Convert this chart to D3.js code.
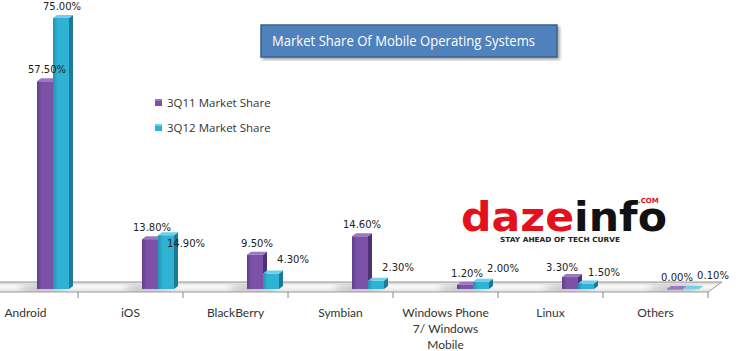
<!DOCTYPE html>
<meta charset="utf-8">
<style>
body { margin: 0; background: #fff; }
svg { display: block; }
.val { font-family: "DejaVu Sans", sans-serif; font-size: 10px; fill: #222; }
.cat { font-family: Lato, sans-serif; font-size: 12px; fill: #333; }
.leg { font-family: "Open Sans", sans-serif; font-size: 11.5px; fill: #333; }
</style>
<svg width="748" height="351"></svg>
<script src="https://d3js.org/d3.v7.min.js"></script>
<script>

var categories = ["Android", "iOS", "BlackBerry", "Symbian", "Windows Phone 7/ Windows Mobile", "Linux", "Others"];
var share3Q11 = [57.5, 13.8, 9.5, 14.6, 1.2, 3.3, 0.0];
var share3Q12 = [75.0, 14.9, 4.3, 2.3, 2.0, 1.5, 0.1];
var seriesNames = ["3Q11 Market Share", "3Q12 Market Share"];

var svg = d3.select("svg");
var defs = svg.append("defs");

// colours for each series: front light, front dark, side, top
var pal = [
  {front: "#7c52a9", edge: "#5f3e8a", side: "#4d3373", top: "#9a78c4"},
  {front: "#2fb2d4", edge: "#2293b3", side: "#1b7a97", top: "#6fd0ea"}
];
pal.forEach(function(p, i) {
  var g = defs.append("linearGradient").attr("id", "fr" + i);
  g.append("stop").attr("offset", "0%").attr("stop-color", p.edge);
  g.append("stop").attr("offset", "30%").attr("stop-color", p.front);
  g.append("stop").attr("offset", "100%").attr("stop-color", p.front);
});
defs.append("filter").attr("id", "blur").append("feGaussianBlur").attr("stdDeviation", 3);
var sh = defs.append("filter").attr("id", "shadow");
sh.append("feDropShadow").attr("dx", 2).attr("dy", 2).attr("stdDeviation", 1.5).attr("flood-opacity", 0.35);
var fl = defs.append("linearGradient").attr("id", "floor").attr("x1", 0).attr("y1", 0).attr("x2", 0).attr("y2", 1);
fl.append("stop").attr("offset", "0%").attr("stop-color", "#d0d0d0");
fl.append("stop").attr("offset", "40%").attr("stop-color", "#fbfbfb");
fl.append("stop").attr("offset", "100%").attr("stop-color", "#e2e2e2");

var x = d3.scaleBand().domain(categories).range([-27, 708]);
var y = d3.scaleLinear().domain([0, 75]).range([289, 18]);
var barW = 16, depth = 4, rise = 3;

// floor slab
svg.append("polygon")
  .attr("points", [[-5, 282], [722, 282], [708, 292], [-5, 292]].join(" "))
  .attr("fill", "url(#floor)").attr("stroke", "#9a9a9a").attr("stroke-width", 1);

// soft shadows under bars
svg.append("g").selectAll("ellipse").data(categories).join("ellipse")
  .attr("cx", function(d) { return x(d) + 70; })
  .attr("cy", 288)
  .attr("rx", 24).attr("ry", 3)
  .attr("fill", "#888").attr("opacity", 0.55)
  .attr("filter", "url(#blur)");

// ticks
svg.append("g").selectAll("line").data(categories).join("line")
  .attr("x1", function(d) { return x(d) + x.bandwidth(); })
  .attr("x2", function(d) { return x(d) + x.bandwidth(); })
  .attr("y1", 292).attr("y2", 298)
  .attr("stroke", "#888");

// bars
[share3Q11, share3Q12].forEach(function(vals, s) {
  var p = pal[s];
  var g = svg.append("g");
  vals.forEach(function(v, i) {
    var x0 = x(categories[i]) + 64 + s * barW;
    var top = y(v), base = y(0);
    g.append("polygon")
      .attr("points", [[x0 + barW, base], [x0 + barW, top], [x0 + barW + depth, top - rise], [x0 + barW + depth, base - rise]].join(" "))
      .attr("fill", p.side);
    g.append("rect")
      .attr("x", x0).attr("y", top)
      .attr("width", barW).attr("height", Math.max(base - top, 0.5))
      .attr("fill", "url(#fr" + s + ")");
    g.append("polygon")
      .attr("points", [[x0, top], [x0 + barW, top], [x0 + barW + depth, top - rise], [x0 + depth, top - rise]].join(" "))
      .attr("fill", p.top);
  });
});

// value labels (nudges mimic the original layout)
var nudge = {
  "Android": [[0, 0], [-1, 0]],
  "iOS": [[0, 0], [18, 20]],
  "Linux": [[-10, 2], [16, 0]]
};
[share3Q11, share3Q12].forEach(function(vals, s) {
  svg.append("g").selectAll("text").data(vals).join("text")
    .attr("class", "val")
    .attr("text-anchor", "middle")
    .attr("x", function(v, i) {
      var n = nudge[categories[i]];
      var dx = n ? n[s][0] : (s ? 20 : 0);
      return x(categories[i]) + 64 + s * barW + barW / 2 + 2 + dx;
    })
    .attr("y", function(v, i) {
      var n = nudge[categories[i]];
      var dy = n ? n[s][1] : (s ? -2 : 0);
      return y(v) - 8 + dy;
    })
    .text(function(v) { return v.toFixed(2) + "%"; });
});

// category labels with wrapping
svg.append("g").selectAll("text").data(categories).join("text")
  .attr("class", "cat")
  .attr("text-anchor", "middle")
  .attr("x", function(d) { return x(d) + x.bandwidth() / 2; })
  .attr("y", 317)
  .each(function(d) {
    var el = d3.select(this), cx = +el.attr("x");
    var words = d.split(" "), line = [], lines = [];
    var tmp = el.append("tspan");
    words.forEach(function(w) {
      line.push(w);
      tmp.text(line.join(" "));
      if (tmp.node().getComputedTextLength() > 92 && line.length > 1) {
        line.pop(); lines.push(line.join(" ")); line = [w];
      }
    });
    lines.push(line.join(" "));
    tmp.remove();
    lines.forEach(function(l, k) {
      el.append("tspan").attr("x", cx).attr("dy", k ? 16 : 0).text(l);
    });
  });

// legend
var leg = svg.append("g").attr("transform", "translate(155,99)");
seriesNames.forEach(function(name, i) {
  var r = leg.append("g").attr("transform", "translate(0," + (i * 25) + ")");
  r.append("rect").attr("width", 7).attr("height", 7).attr("fill", pal[i].front);
  r.append("rect").attr("width", 7).attr("height", 2).attr("fill", pal[i].top);
  r.append("text").attr("class", "leg").attr("x", 12).attr("y", 7.5).text(name);
});

// title box
svg.append("rect").attr("x", 261).attr("y", 25).attr("width", 296).attr("height", 32)
  .attr("fill", "#4f81bd").attr("stroke", "#3a5f8c").attr("stroke-width", 1.5)
  .attr("filter", "url(#shadow)");
svg.append("text").attr("x", 272).attr("y", 46)
  .attr("font-family", "'Open Sans', sans-serif").attr("font-size", 14)
  .attr("fill", "#fff").attr("textLength", 263).attr("lengthAdjust", "spacingAndGlyphs")
  .text("Market Share Of Mobile Operating  Systems");

// logo
var logo = svg.append("text").attr("x", 461).attr("y", 231)
  .attr("font-family", "'DejaVu Sans', sans-serif").attr("font-weight", "bold")
  .attr("font-size", 40).attr("textLength", 206).attr("lengthAdjust", "spacingAndGlyphs");
logo.append("tspan").attr("fill", "#e3111b").text("daze");
logo.append("tspan").attr("fill", "#111").text("info");
svg.append("text").attr("x", 638).attr("y", 203)
  .attr("font-family", "'DejaVu Sans', sans-serif").attr("font-weight", "bold")
  .attr("font-size", 7).attr("fill", "#e3111b").text(".COM");
svg.append("text").attr("x", 500).attr("y", 242)
  .attr("font-family", "'DejaVu Sans', sans-serif").attr("font-weight", "bold")
  .attr("font-size", 7).attr("fill", "#222")
  .attr("textLength", 120).attr("lengthAdjust", "spacingAndGlyphs")
  .text("STAY AHEAD OF TECH CURVE");

</script>
